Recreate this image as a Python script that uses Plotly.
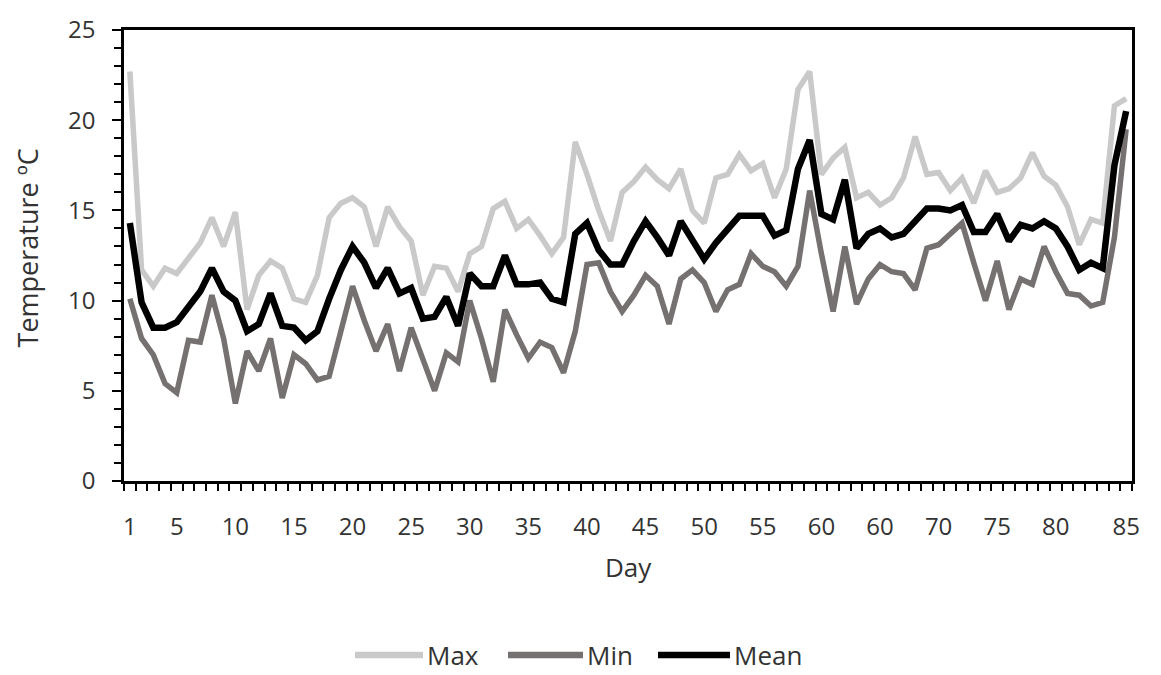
import plotly.graph_objects as go

# Daily air temperature series (ºC)
DAYS = list(range(1, 87))

MAX_T = [22.7, 11.7, 10.8, 11.8, 11.5, 12.3, 13.2, 14.6, 13.0, 14.9,
         9.5, 11.4, 12.2, 11.8, 10.1, 9.9, 11.4, 14.6, 15.4, 15.7,
         15.2, 13.0, 15.2, 14.1, 13.3, 10.3, 11.9, 11.8, 10.5, 12.6,
         13.0, 15.1, 15.5, 14.0, 14.5, 13.6, 12.6, 13.5, 18.8, 17.0,
         15.0, 13.3, 16.0, 16.6, 17.4, 16.7, 16.2, 17.3, 15.0, 14.3,
         16.8, 17.0, 18.1, 17.2, 17.6, 15.7, 17.3, 21.7, 22.7, 17.0,
         17.9, 18.5, 15.7, 16.0, 15.3, 15.7, 16.8, 19.1, 17.0, 17.1,
         16.1, 16.8, 15.4, 17.2, 16.0, 16.2, 16.8, 18.2, 16.9, 16.4,
         15.2, 13.1, 14.5, 14.3, 20.8, 21.2]

MIN_T = [10.1, 7.9, 7.0, 5.4, 4.9, 7.8, 7.7, 10.3, 7.9, 4.3,
         7.2, 6.1, 7.9, 4.6, 7.0, 6.5, 5.6, 5.8, 8.3, 10.8,
         8.9, 7.2, 8.7, 6.1, 8.5, 6.8, 5.0, 7.1, 6.6, 10.0,
         7.9, 5.5, 9.5, 8.1, 6.8, 7.7, 7.4, 6.0, 8.3, 12.0,
         12.1, 10.5, 9.4, 10.3, 11.4, 10.8, 8.7, 11.2, 11.7, 11.0,
         9.4, 10.6, 10.9, 12.6, 11.9, 11.6, 10.8, 11.9, 16.1, 12.6,
         9.4, 13.0, 9.8, 11.2, 12.0, 11.6, 11.5, 10.6, 12.9, 13.1,
         13.7, 14.3, 12.1, 10.0, 12.2, 9.5, 11.2, 10.9, 13.0, 11.6,
         10.4, 10.3, 9.7, 9.9, 13.5, 19.5]

MEAN_T = [14.3, 9.9, 8.5, 8.5, 8.8, 9.6, 10.5, 11.8, 10.5, 10.0,
          8.3, 8.7, 10.4, 8.6, 8.5, 7.8, 8.3, 10.1, 11.7, 13.0,
          12.1, 10.7, 11.8, 10.4, 10.7, 9.0, 9.1, 10.2, 8.6, 11.5,
          10.8, 10.8, 12.5, 10.9, 10.9, 11.0, 10.1, 9.9, 13.7, 14.3,
          12.8, 12.0, 12.0, 13.3, 14.4, 13.5, 12.5, 14.4, 13.3, 12.3,
          13.2, 14.0, 14.7, 14.7, 14.7, 13.6, 13.9, 17.3, 18.9, 14.8,
          14.5, 16.7, 12.9, 13.7, 14.0, 13.5, 13.7, 14.4, 15.1, 15.1,
          15.0, 15.3, 13.8, 13.8, 14.8, 13.3, 14.2, 14.0, 14.4, 14.0,
          13.0, 11.7, 12.1, 11.8, 17.5, 20.5]

# Category positions that carry a label, and the label shown there
TICK_DAYS = [1, 5, 10, 15, 20, 25, 30, 35, 40, 45, 50, 55, 60, 65, 70, 75, 80, 86]
TICK_TEXT = ["1", "5", "10", "15", "20", "25", "30", "35", "40", "45", "50",
             "55", "60", "60", "70", "75", "80", "85"]

SERIES_NAMES = ["Max", "Min", "Mean"]
SERIES_VALUES = [MAX_T, MIN_T, MEAN_T]
SERIES_COLORS = ["#c9c9c9", "#767171", "#000000"]
SERIES_WIDTHS = [5.5, 5.5, 6.5]

FONT = "Open Sans"
TEXT_COLOR = "#333333"

W, H = 1161, 675
ML, MR, MT, MB = 124, 29, 19, 193.5
PW = W - ML - MR
PH = H - MT - MB


def px_x(px):
    return (px - ML) / PW


def px_y(py):
    return (H - MB - py) / PH


fig = go.Figure()
for name, vals, color, width in zip(SERIES_NAMES, SERIES_VALUES, SERIES_COLORS, SERIES_WIDTHS):
    fig.add_trace(go.Scatter(
        x=DAYS, y=vals, mode="lines", name=name, showlegend=False,
        line=dict(color=color, width=width, shape="linear"),
    ))

# Legend below the axis title: a line sample followed by the series name
legend_line_x = [(355, 423), (508, 583), (658, 730)]
legend_y = 660
shapes = []
annotations = []
for (x0, x1), name, color in zip(legend_line_x, SERIES_NAMES, SERIES_COLORS):
    shapes.append(dict(type="line", xref="paper", yref="paper",
                       x0=px_x(x0), x1=px_x(x1), y0=px_y(legend_y), y1=px_y(legend_y),
                       line=dict(color=color, width=6.5)))
    annotations.append(dict(text=name, xref="paper", yref="paper",
                            x=px_x(x1 + 2), y=px_y(legend_y), xanchor="left", yanchor="middle",
                            showarrow=False, font=dict(family=FONT, size=26, color=TEXT_COLOR)))

annotations.append(dict(text="Temperature ºC", xref="paper", yref="paper",
                        x=px_x(27), y=px_y(243), textangle=-90,
                        xanchor="center", yanchor="middle", showarrow=False,
                        font=dict(family=FONT, size=27, color=TEXT_COLOR)))
annotations.append(dict(text="Day", xref="paper", yref="paper",
                        x=px_x(628), y=px_y(570), xanchor="center", yanchor="middle",
                        showarrow=False, font=dict(family=FONT, size=26, color=TEXT_COLOR)))

fig.update_layout(
    width=W, height=H,
    margin=dict(l=ML, r=MR, t=MT, b=MB, pad=0),
    paper_bgcolor="white", plot_bgcolor="white",
    font=dict(family=FONT, size=23, color=TEXT_COLOR),
    shapes=shapes, annotations=annotations,
    xaxis=dict(
        range=[0.5, 86.5], tickmode="array", tickvals=TICK_DAYS, ticktext=TICK_TEXT,
        ticks="", ticklabelstandoff=22, showgrid=False, zeroline=False,
        showline=True, linecolor="black", linewidth=2.5, mirror=True,
        minor=dict(tickmode="linear", tick0=0.5, dtick=1, ticks="outside",
                   ticklen=7, tickwidth=2, tickcolor="black", showgrid=False),
        tickfont=dict(family=FONT, size=24, color=TEXT_COLOR),
    ),
    yaxis=dict(
        range=[0, 25], tickmode="linear", tick0=0, dtick=5,
        ticks="outside", ticklen=9, tickwidth=2, tickcolor="black",
        ticklabelstandoff=12, showgrid=False, zeroline=False,
        showline=True, linecolor="black", linewidth=2.5, mirror=True,
        minor=dict(tickmode="linear", tick0=0, dtick=1, ticks="outside",
                   ticklen=7, tickwidth=2, tickcolor="black", showgrid=False),
        tickfont=dict(family=FONT, size=24, color=TEXT_COLOR),
    ),
)

fig.write_html("out.html")
